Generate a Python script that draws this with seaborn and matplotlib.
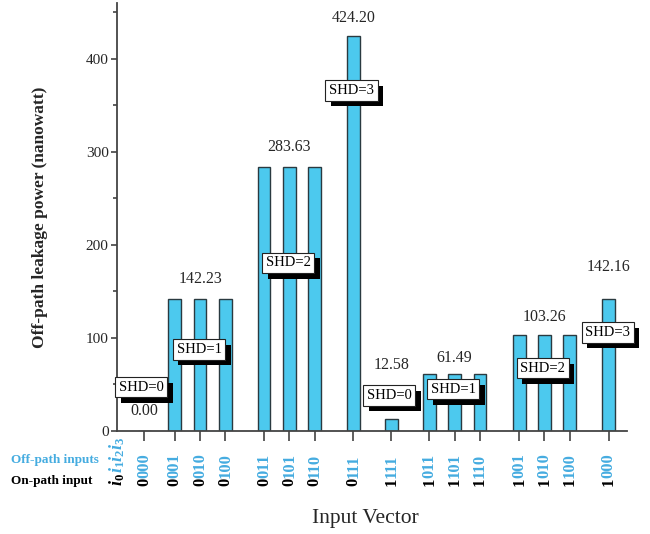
import numpy as np
import pandas as pd
import matplotlib
matplotlib.use("Agg")
import matplotlib.pyplot as plt
import matplotlib.transforms as mtransforms
import matplotlib.patheffects as pe
import seaborn as sns

# ---------------- data ----------------
vectors = ["0000", "0001", "0010", "0100", "0011", "0101", "0110", "0111",
           "1111", "1011", "1101", "1110", "1001", "1010", "1100", "1000"]
groups = [1, 3, 3, 1, 1, 3, 3, 1]          # number of vectors in each group
leakage = [0.00, 142.23, 142.23, 142.23, 283.63, 283.63, 283.63, 424.20,
           12.58, 61.49, 61.49, 61.49, 103.26, 103.26, 103.26, 142.16]
group_values = ["0.00", "142.23", "283.63", "424.20", "12.58", "61.49", "103.26", "142.16"]
shd_labels = ["SHD=0", "SHD=1", "SHD=2", "SHD=3", "SHD=0", "SHD=1", "SHD=2", "SHD=3"]

# ---------------- layout (not data) ----------------
group_gaps = [1.2, 1.53, 1.53, 1.5, 1.5, 1.55, 1.53]
value_label_y = [21, 163, 305, 444, 71, 78.6, 123, 176.5]
shd_pos = [(-0.13, 47), (2.16, 87.7), (5.68, 180.7), (8.19, 366),
           (9.67, 38), (12.2, 45), (15.74, 67.4), (18.31, 106)]

# compute x positions from the group structure
positions = []
cur = 0.0
for gi, n in enumerate(groups):
    if gi > 0:
        cur += group_gaps[gi - 1]
    for k in range(n):
        positions.append(cur + k)
    cur = positions[-1]
group_centers = []
idx = 0
for n in groups:
    group_centers.append(np.mean(positions[idx:idx + n]))
    idx += n

BAR = "#4CC9EE"
BLUE = "#45ACE0"

sns.set_style("ticks")
plt.rcParams["font.family"] = ["Liberation Serif", "DejaVu Serif"]
plt.rcParams["mathtext.fontset"] = "custom"
plt.rcParams["mathtext.it"] = "Liberation Serif:italic:bold"
plt.rcParams["mathtext.rm"] = "Liberation Serif:bold"
plt.rcParams["mathtext.bf"] = "Liberation Serif:bold"

fig = plt.figure(figsize=(6.5, 5.34), dpi=100)
ax = fig.add_axes([117 / 650, 1 - 431 / 534, (627 - 117) / 650, (431 - 3) / 534])

df = pd.DataFrame({"pos": positions, "leak": leakage})
sns.barplot(data=df, x="pos", y="leak", native_scale=True, width=0.5,
            color=BAR, saturation=1, edgecolor="#2a3a40", linewidth=1.0, ax=ax)

ax.set_xlim(-1.08, 19.07)
ax.set_ylim(0, 460)
ax.set_xticks(positions)
ax.set_xticklabels([])
ax.set_yticks([0, 100, 200, 300, 400])
ax.set_yticks([50, 150, 250, 350, 450], minor=True)
ax.tick_params(axis="y", which="major", length=4.5, width=1.1, labelsize=11, color="#333333", pad=1.5)
ax.tick_params(axis="y", which="minor", length=3, width=1.1, color="#333333")
ax.tick_params(axis="x", which="major", length=7, width=1.1, color="#333333")
for s in ["top", "right"]:
    ax.spines[s].set_visible(False)
for s in ["left", "bottom"]:
    ax.spines[s].set_linewidth(1.3)
    ax.spines[s].set_color("#444444")
ax.set_xlabel("")
ax.set_ylabel("Off-path leakage power (nanowatt)", fontsize=12.5, fontweight="bold", labelpad=27)

# value labels
for xc, yv, txt in zip(group_centers, value_label_y, group_values):
    ax.text(xc, yv, txt, ha="center", va="center", fontsize=11.5)

# SHD boxes with drop shadow
for (sx, sy), lab in zip(shd_pos, shd_labels):
    t = ax.text(sx, sy, lab, ha="center", va="center", fontsize=10.5, color="black",
                bbox=dict(boxstyle="square,pad=0.25", fc="white", ec="#222222", lw=0.8),
                zorder=6, clip_on=False)
    t.get_bbox_patch().set_path_effects([
        pe.SimplePatchShadow(offset=(4, -4), shadow_rgbFace="black", alpha=1.0),
        pe.Normal()])

# custom two-coloured x tick labels
trans = mtransforms.blended_transform_factory(ax.transData, ax.transAxes)
ybot = (431 - 486) / 428
for xp, v in zip(positions, vectors):
    t0 = ax.text(xp, ybot, v[0], transform=trans, rotation=90, ha="center", va="bottom",
                 fontsize=12, fontweight="bold", color="black")
    ax.annotate(v[1:], xy=(0.5, 1.0), xycoords=t0, rotation=90, ha="center", va="bottom",
                fontsize=12, fontweight="bold", color=BLUE, annotation_clip=False)

# i0 i1 i2 i3 label
ti = ax.text(-1.08, ybot, r"$i_0$", transform=trans, rotation=90, ha="center", va="bottom",
             fontsize=13, color="black")
ax.annotate(r"$i_1i_2i_3$", xy=(0.5, 1.0), xycoords=ti, rotation=90, ha="center", va="bottom",
            fontsize=13, color=BLUE, annotation_clip=False)

fig.text(11 / 650, 1 - 460 / 534, "Off-path inputs", ha="left", va="center",
         fontsize=9.5, fontweight="bold", color=BLUE)
fig.text(11 / 650, 1 - 481 / 534, "On-path input", ha="left", va="center",
         fontsize=9.5, fontweight="bold", color="black")

fig.text(365 / 650, 1 - 519 / 534, "Input Vector", ha="center", va="center", fontsize=15.5)

fig.savefig("out.png", dpi=100)
